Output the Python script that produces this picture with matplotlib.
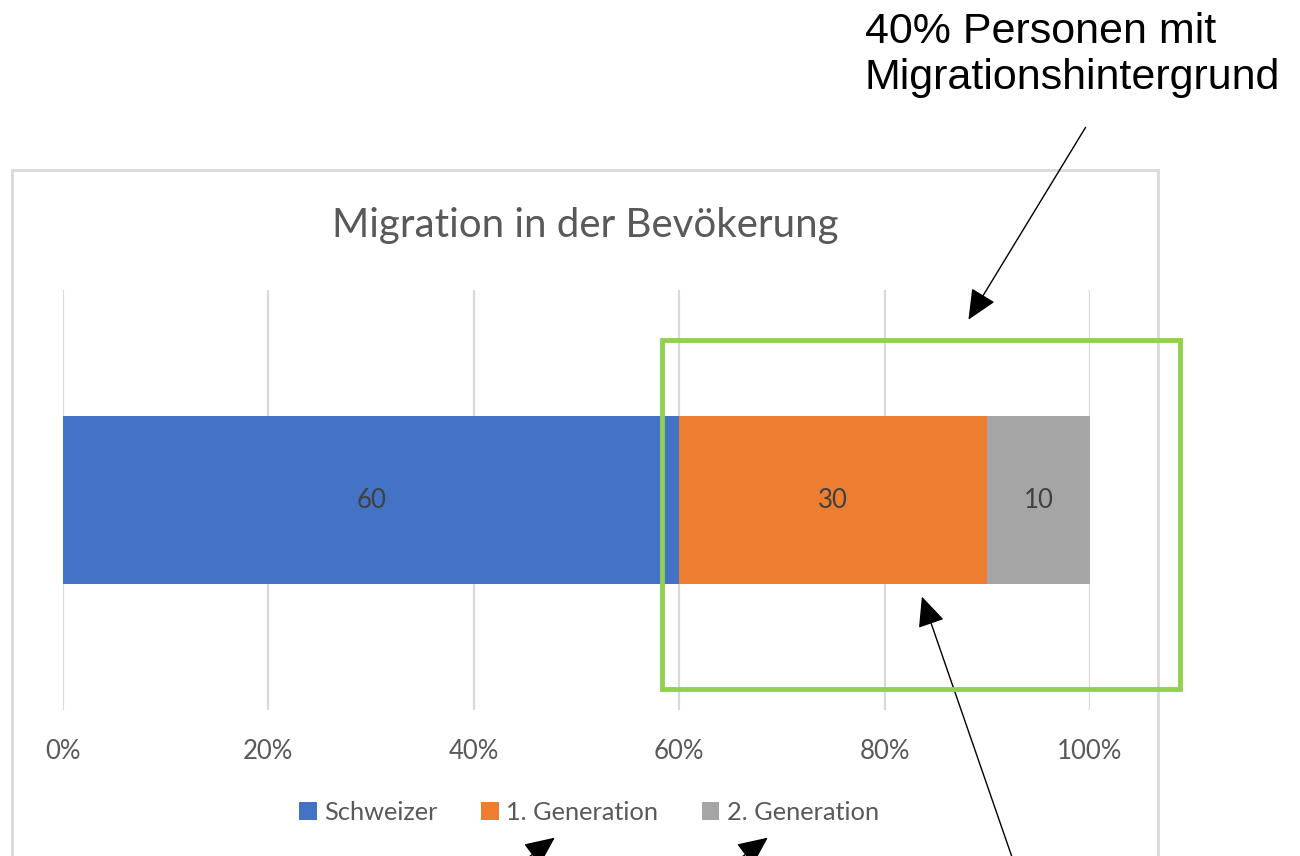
import matplotlib
matplotlib.use('Agg')
import matplotlib.pyplot as plt
from matplotlib.patches import Rectangle, FancyArrowPatch

# data
categories = ["Bevölkerung"]
series_names = ["Schweizer", "1. Generation", "2. Generation"]
series_values = [[60], [30], [10]]
series_colors = ["#4472C4", "#ED7D31", "#A5A5A5"]
tick_values = [0, 20, 40, 60, 80, 100]
tick_labels = ["0%", "20%", "40%", "60%", "80%", "100%"]

W, H = 1300, 856
GRAY = "#595959"
plt.rcParams['font.family'] = ['Lato', 'DejaVu Sans']

fig = plt.figure(figsize=(W / 100, H / 100), dpi=100)


def fx(px):
    return px / W


def fy(py):
    return 1 - py / H


# chart frame (Excel style), runs off the bottom
frame = Rectangle((fx(12), fy(880)), fx(1158) - fx(12), fy(170) - fy(880),
                  transform=fig.transFigure, fill=False, edgecolor="#d9d9d9",
                  linewidth=2, zorder=0)
fig.patches.append(frame)

ax = fig.add_axes([fx(63), fy(710), fx(1090) - fx(63), fy(290) - fy(710)])
ax.set_facecolor("none")

left = 0
handles = []
for name, vals, col in zip(series_names, series_values, series_colors):
    b = ax.barh(categories, vals, left=left, height=0.4, color=col, label=name, zorder=2)
    lbls = ax.bar_label(b, labels=[str(v) for v in vals], label_type="center",
                        color="#404040", fontsize=18.5)
    for t in lbls:
        t.set_y(t.get_position()[1] - 0.008)
    handles.append(b)
    left = left + vals[0]

ax.set_xlim(0, 100)
ax.set_ylim(-0.5, 0.5)
ax.set_xticks(tick_values)
ax.set_xticklabels(tick_labels, color=GRAY, fontsize=18.5)
ax.tick_params(axis="x", length=0, pad=21)
ax.set_yticks([])
ax.grid(axis="x", color="#d9d9d9", linewidth=1.6, zorder=0)
ax.set_axisbelow(True)
for s in ax.spines.values():
    s.set_visible(False)

fig.text(fx(585), fy(225), "Migration in der Bevökerung", ha="center", va="center",
         fontsize=29, color=GRAY)

fig.legend(handles=handles, labels=series_names, loc="center", ncol=3,
           bbox_to_anchor=(fx(589), fy(812)), frameon=False, fontsize=18.3,
           labelcolor=GRAY, handlelength=0.7, handleheight=0.7,
           handletextpad=0.3, columnspacing=1.7)

# green highlight box
box = Rectangle((fx(662), fy(689)), fx(1180) - fx(662), fy(340) - fy(689),
                transform=fig.transFigure, fill=False, edgecolor="#92D050",
                linewidth=3.5, zorder=5)
fig.patches.append(box)

fig.text(fx(865), fy(55), "40% Personen mit\nMigrationshintergrund", ha="left",
         va="center", fontsize=31, color="black", family="Liberation Sans",
         linespacing=1.22)

arrows = [((1087, 125), (967, 322)), ((1013, 860), (921, 594)),
          ((525, 860), (557, 836)), ((738, 860), (770, 836))]
for (tx, ty), (hx, hy) in arrows:
    fig.add_artist(FancyArrowPatch(
        (fx(tx), fy(ty)), (fx(hx), fy(hy)), transform=fig.transFigure,
        arrowstyle="-|>,head_length=11,head_width=5", mutation_scale=1.7,
        color="black", linewidth=1))

fig.savefig("out.png", dpi=100)
